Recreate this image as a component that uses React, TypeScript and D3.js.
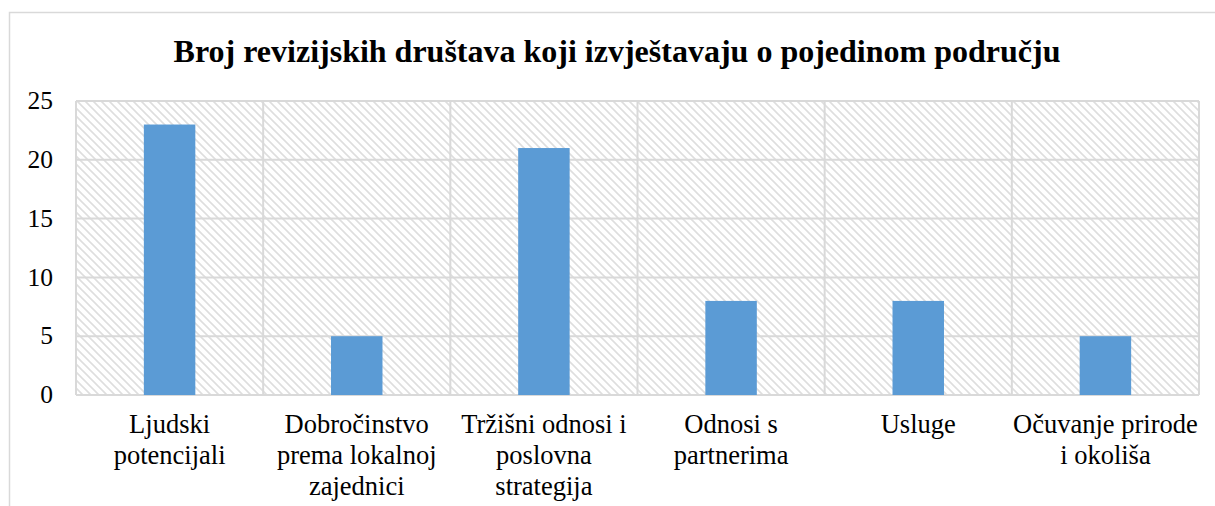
import React from "react";
import * as d3 from "d3";

const title = "Broj revizijskih društava koji izvještavaju o pojedinom području";
const categories = [
  ["Ljudski", "potencijali"],
  ["Dobročinstvo", "prema lokalnoj", "zajednici"],
  ["Tržišni odnosi i", "poslovna", "strategija"],
  ["Odnosi s", "partnerima"],
  ["Usluge"],
  ["Očuvanje prirode", "i okoliša"],
];
const values = [23, 5, 21, 8, 8, 5];
const yTicks = [0, 5, 10, 15, 20, 25];

const W = 1215;
const H = 506;
const plot = { left: 76, top: 101, right: 1199, bottom: 395 };

export default function App() {
  const x = d3
    .scaleBand<number>()
    .domain(categories.map((_, i) => i))
    .range([plot.left, plot.right])
    .paddingInner(0)
    .paddingOuter(0);
  const y = d3.scaleLinear().domain([0, 25]).range([plot.bottom, plot.top]);
  const barW = x.bandwidth() * 0.275;
  const font = "Liberation Serif";
  return (
    <div style={{ position: "absolute", left: 0, top: 0 }}>
      <svg width={W} height={H} style={{ display: "block" }}>
        <defs>
          <pattern id="hatch" width="8" height="8" patternUnits="userSpaceOnUse">
            <path d="M-2,-2 L10,10 M-2,6 L2,10 M6,-2 L10,2" stroke="#dedede" strokeWidth="1.6" />
          </pattern>
        </defs>
        <rect x={0} y={0} width={W} height={H} fill="#fff" />
        <rect x={9.5} y={12.5} width={W + 10} height={H + 10} fill="#fff" stroke="#d9d9d9" strokeWidth={1.5} />
        <text
          x={617}
          y={62}
          textAnchor="middle"
          style={{ fontFamily: font, fontWeight: "bold", fontSize: "32px" }}
          fill="#000"
        >
          {title}
        </text>
        <rect
          x={plot.left}
          y={plot.top}
          width={plot.right - plot.left}
          height={plot.bottom - plot.top}
          fill="url(#hatch)"
        />
        {yTicks.map((t) => (
          <line
            key={"g" + t}
            x1={plot.left}
            x2={plot.right}
            y1={y(t)}
            y2={y(t)}
            stroke="#d9d9d9"
            strokeWidth={2}
          />
        ))}
        {d3.range(categories.length + 1).map((i) => {
          const xx = i < categories.length ? (x(i) as number) : plot.right;
          return (
            <line
              key={"v" + i}
              x1={xx}
              x2={xx}
              y1={plot.top}
              y2={plot.bottom}
              stroke="#d9d9d9"
              strokeWidth={2}
            />
          );
        })}
        {values.map((v, i) => (
          <rect
            key={"b" + i}
            x={(x(i) as number) + x.bandwidth() / 2 - barW / 2}
            y={y(v)}
            width={barW}
            height={y(0) - y(v)}
            fill="#5B9BD5"
          />
        ))}
        {yTicks.map((t) => (
          <text
            key={"t" + t}
            x={53}
            y={y(t)}
            dy="0.32em"
            textAnchor="end"
            style={{ fontFamily: font, fontSize: "25.5px" }}
            fill="#000"
          >
            {t}
          </text>
        ))}
        {categories.map((lines, i) => (
          <text
            key={"c" + i}
            textAnchor="middle"
            style={{ fontFamily: font, fontSize: "26.5px" }}
            fill="#000"
          >
            {lines.map((ln, j) => (
              <tspan key={j} x={(x(i) as number) + x.bandwidth() / 2} y={433 + j * 31}>
                {ln}
              </tspan>
            ))}
          </text>
        ))}
      </svg>
    </div>
  );
}
